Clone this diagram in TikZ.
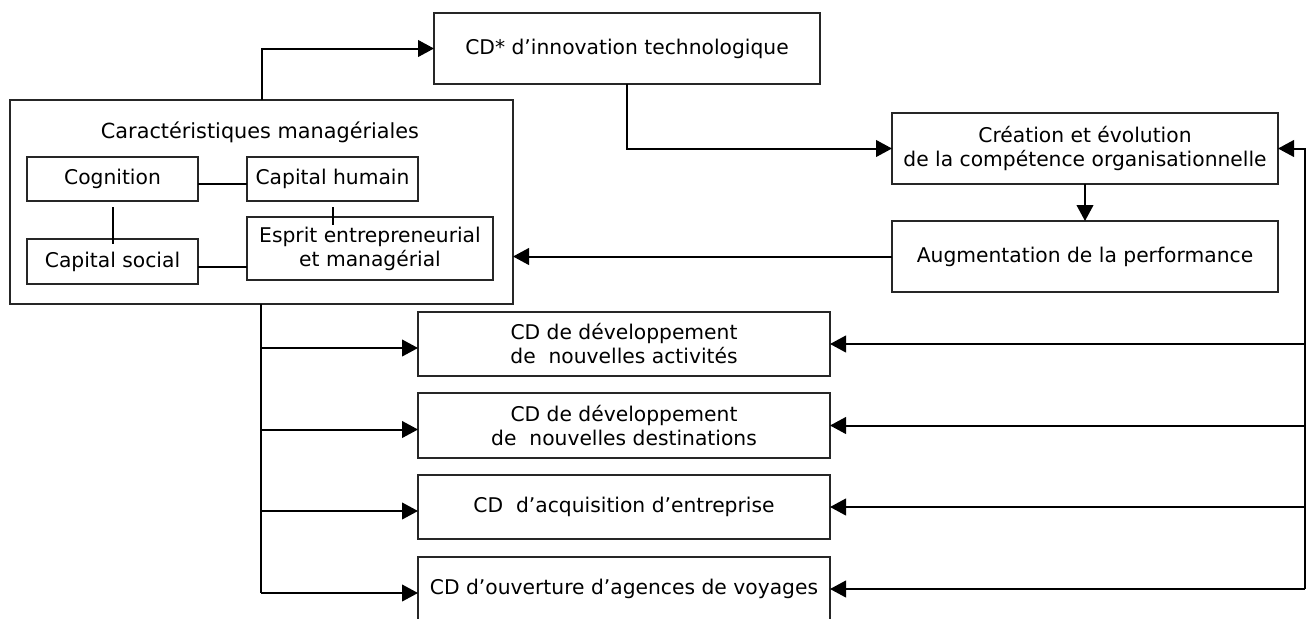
\documentclass[tikz,border=0pt]{standalone}
\usepackage{fontspec}
\setmainfont{DejaVu Sans}
\usetikzlibrary{arrows.meta,calc}
\begin{document}
\begin{tikzpicture}[x=0.75pt,y=-0.75pt,
  txt/.style={font=\fontsize{15.2}{18}\selectfont},
  box/.style={txt,draw=black!85,line width=1pt,rectangle,inner sep=0pt,outer sep=0pt,align=center},
  arr/.style={line width=1.5pt,-{Triangle[length=12pt,width=12.5pt]}},
  link/.style={line width=1.5pt}]
\useasboundingbox (0,0) rectangle (1310,618);
\clip (0,0) rectangle (1310,618);
% boxes
\node[box,minimum width=289.5pt,minimum height=53.25pt] (top) at (627,48.5) {CD* d’innovation technologique};
\node[box,minimum width=377.25pt,minimum height=153pt] (main) at (261.5,202) {};
\node[txt,font=\fontsize{15.6}{18}\selectfont] (title) at (260,132) {Caractéristiques managériales};
\node[box,minimum width=128.25pt,minimum height=33pt] (cog) at (112.5,179) {Cognition};
\node[box,minimum width=128.25pt,minimum height=33pt] (hum) at (332.5,179) {Capital humain};
\node[box,minimum width=184.5pt,minimum height=47.25pt] (esp) at (370,248.5) {Esprit entrepreneurial\\ et managérial};
\node[box,minimum width=128.25pt,minimum height=33.75pt] (soc) at (112.5,261.5) {Capital social};
\node[box,minimum width=289.5pt,minimum height=53.25pt] (cre) at (1085,148.5) {Création et évolution\\de la compétence organisationnelle};
\node[box,minimum width=289.5pt,minimum height=53.25pt] (aug) at (1085,256.5) {Augmentation de la performance};
\node[box,minimum width=309pt,minimum height=48pt] (b1) at (624,344) {CD de développement\\ de\ \ nouvelles activités};
\node[box,minimum width=309pt,minimum height=48.75pt] (b2) at (624,425.5) {CD de développement\\ de\ \ nouvelles destinations};
\node[box,minimum width=309pt,minimum height=48pt] (b3) at (624,507) {CD\ \ d’acquisition d’entreprise};
\node[box,minimum width=309pt,minimum height=48pt] (b4) at (624,589) {CD d’ouverture d’agences de voyages};
% inner links
\draw[link] ($(cog.east)+(0,5)$) -- ($(hum.west)+(0,5)$);
\draw[link] ($(cog.south)+(0,6)$) -- ($(soc.north)+(0,5)$);
\draw[link] ($(hum.south)+(0,6)$) -- ($(esp.north -| hum.south)+(0,8)$);
\draw[link] ($(soc.east)+(0,5)$) -- ($(esp.west |- soc.east)+(0,5)$);
% main arrows
\draw[arr] (main.north) |- (top.west);
\draw[arr] (top.south) |- (cre.west);
\draw[arr] (cre.south) -- (aug.north);
\draw[arr] (aug.west) -- (main.east |- aug.west);
% spine to bottom boxes
\coordinate (spend) at (261,593);
\draw[line width=1.5pt] (main.south -| spend) -- (spend);
\foreach \b in {b1,b2,b3,b4}{
  \draw[arr] ($(spend |- \b.west)+(0,4)$) -- ($(\b.west)+(0,4)$);
}
% feedback line
\coordinate (fb) at (1305,589);
\draw[arr] (fb) |- (cre.east);
\foreach \b in {b1,b2,b3,b4}{
  \draw[arr] (fb |- \b.east) -- (\b.east);
}
\end{tikzpicture}
\end{document}
